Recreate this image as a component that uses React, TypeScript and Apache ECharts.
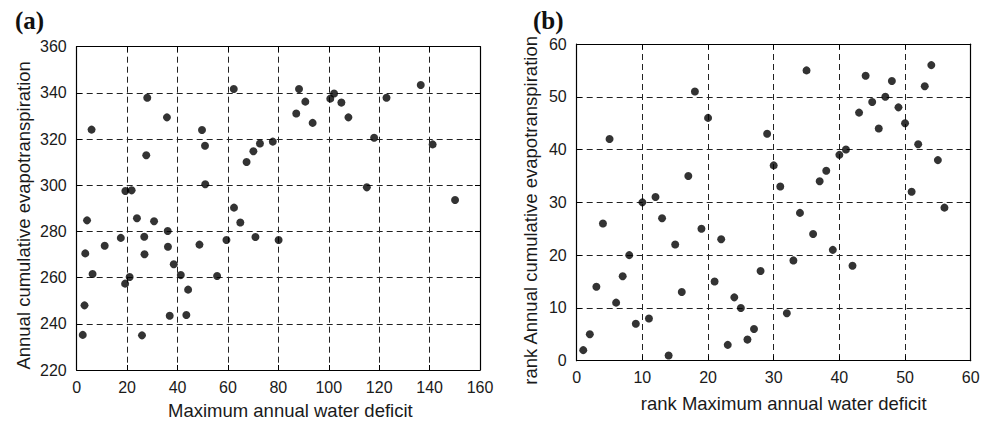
import React, { useEffect, useRef } from "react";
import * as echarts from "echarts";

// Panel (a): raw values
const deficitA = [2.4, 3.1, 3.4, 4.1, 5.9, 6.3, 11.1, 17.5, 19.2, 19.3, 21.0, 21.8, 23.9, 25.9, 26.8, 26.9, 27.6, 28.0, 30.7, 35.8, 36.1, 36.2, 36.9, 38.5, 41.3, 43.5, 44.2, 48.7, 49.7, 50.9, 51.0, 55.7, 59.4, 62.3, 62.4, 64.9, 67.4, 70.1, 70.9, 72.7, 77.8, 80.1, 87.1, 88.2, 90.7, 93.6, 100.6, 102.1, 105.0, 107.8, 115.1, 118.0, 122.9, 136.5, 141.2, 150.1];
const etA = [235.2, 248.0, 270.5, 284.8, 324.1, 261.6, 273.8, 277.2, 257.4, 297.5, 260.3, 297.8, 285.7, 235.0, 277.7, 270.1, 313.0, 337.9, 284.4, 329.4, 280.2, 273.4, 243.5, 265.8, 261.1, 243.8, 254.8, 274.3, 323.9, 317.1, 300.4, 260.7, 276.3, 341.7, 290.3, 283.9, 310.1, 314.7, 277.6, 318.1, 318.9, 276.3, 331.1, 341.7, 336.2, 327.0, 337.5, 339.7, 335.8, 329.4, 299.1, 320.6, 337.9, 343.4, 317.7, 293.6];

// Panel (b): ranks
const rankDeficitB = [1, 2, 3, 4, 5, 6, 7, 8, 9, 10, 11, 12, 13, 14, 15, 16, 17, 18, 19, 20, 21, 22, 23, 24, 25, 26, 27, 28, 29, 30, 31, 32, 33, 34, 35, 36, 37, 38, 39, 40, 41, 42, 43, 44, 45, 46, 47, 48, 49, 50, 51, 52, 53, 54, 55, 56];
const rankEtB = [2, 5, 14, 26, 42, 11, 16, 20, 7, 30, 8, 31, 27, 1, 22, 13, 35, 51, 25, 46, 15, 23, 3, 12, 10, 4, 6, 17, 43, 37, 33, 9, 19, 28, 55, 24, 34, 36, 21, 39, 40, 18, 47, 54, 49, 44, 50, 53, 48, 45, 32, 41, 52, 56, 38, 29];

const xTicksA = { min: 0, max: 160, interval: 20 };
const yTicksA = { min: 220, max: 360, interval: 20 };
const xTicksB = { min: 0, max: 60, interval: 10 };
const yTicksB = { min: 0, max: 60, interval: 10 };

const FONT = "'Liberation Sans', Arial, Helvetica, sans-serif";
const INK = "#1a1a1a";

function axisPair(
  kind: "x" | "y",
  gridIndex: number,
  t: { min: number; max: number; interval: number },
  name: string,
  nameGap: number,
  namePad: number[]
) {
  const main: any = {
    type: "value",
    gridIndex,
    min: t.min,
    max: t.max,
    interval: t.interval,
    position: kind === "x" ? "bottom" : "left",
    name,
    nameLocation: "middle",
    nameGap,
    nameTextStyle: { fontFamily: FONT, fontSize: 18.5, color: INK, padding: namePad },
    axisLine: { show: true, onZero: false, lineStyle: { color: "#000", width: 1.2 } },
    axisTick: { show: true, inside: true, length: 5, lineStyle: { color: "#000" } },
    axisLabel: { fontFamily: FONT, fontSize: 16, color: INK, margin: kind === "x" ? 9 : 10 },
    splitLine: { show: true, lineStyle: { color: "#222", type: [6, 4], width: 1 } },
  };
  const second: any = {
    type: "value",
    gridIndex,
    min: t.min,
    max: t.max,
    interval: t.interval,
    position: kind === "x" ? "top" : "right",
    axisLine: { show: true, onZero: false, lineStyle: { color: "#000", width: 1.2 } },
    axisTick: { show: true, inside: true, length: 5, lineStyle: { color: "#000" } },
    axisLabel: { show: false },
    splitLine: { show: false },
  };
  return [main, second];
}

export default function App() {
  const ref = useRef<HTMLDivElement>(null);
  useEffect(() => {
    if (!ref.current) return;
    const chart = echarts.init(ref.current, undefined, { renderer: "svg" });
    const xA = axisPair("x", 0, xTicksA, "Maximum annual water deficit", 31, [0, 0, 0, 24]);
    const yA = axisPair("y", 0, yTicksA, "Annual cumulative evapotranspiration", 44, [8, 14, 0, 0]);
    const xB = axisPair("x", 1, xTicksB, "rank Maximum annual water deficit", 33, [0, 0, 0, 20]);
    const yB = axisPair("y", 1, yTicksB, "rank Annual cumulative evapotranspiration", 37, [0, 16, 0, 0]);
    chart.setOption({
      animation: false,
      backgroundColor: "#fff",
      grid: [
        { left: 76.7, top: 46.7, width: 403.3, height: 323.3, containLabel: false },
        { left: 576.7, top: 44, width: 394, height: 316.7, containLabel: false },
      ],
      xAxis: [...xA, ...xB],
      yAxis: [...yA, ...yB],
      series: [
        {
          type: "scatter",
          xAxisIndex: 0,
          yAxisIndex: 0,
          symbol: "circle",
          symbolSize: 8,
          itemStyle: { color: "#000" },
          data: deficitA.map((x, i) => [x, etA[i]]),
        },
        {
          type: "scatter",
          xAxisIndex: 2,
          yAxisIndex: 2,
          symbol: "circle",
          symbolSize: 8,
          itemStyle: { color: "#000" },
          data: rankDeficitB.map((x, i) => [x, rankEtB[i]]),
        },
      ],
      graphic: [
        {
          type: "text",
          left: 15,
          top: 8,
          style: { text: "(a)", font: "bold 25px 'Liberation Serif', 'Times New Roman', serif", fill: "#111" },
        },
        {
          type: "text",
          left: 533,
          top: 8,
          style: { text: "(b)", font: "bold 25px 'Liberation Serif', 'Times New Roman', serif", fill: "#111" },
        },
      ],
    });
    return () => chart.dispose();
  }, []);
  return (
    <div
      ref={ref}
      style={{ position: "absolute", left: 0, top: 0, width: 987, height: 425, background: "#fff" }}
    />
  );
}
